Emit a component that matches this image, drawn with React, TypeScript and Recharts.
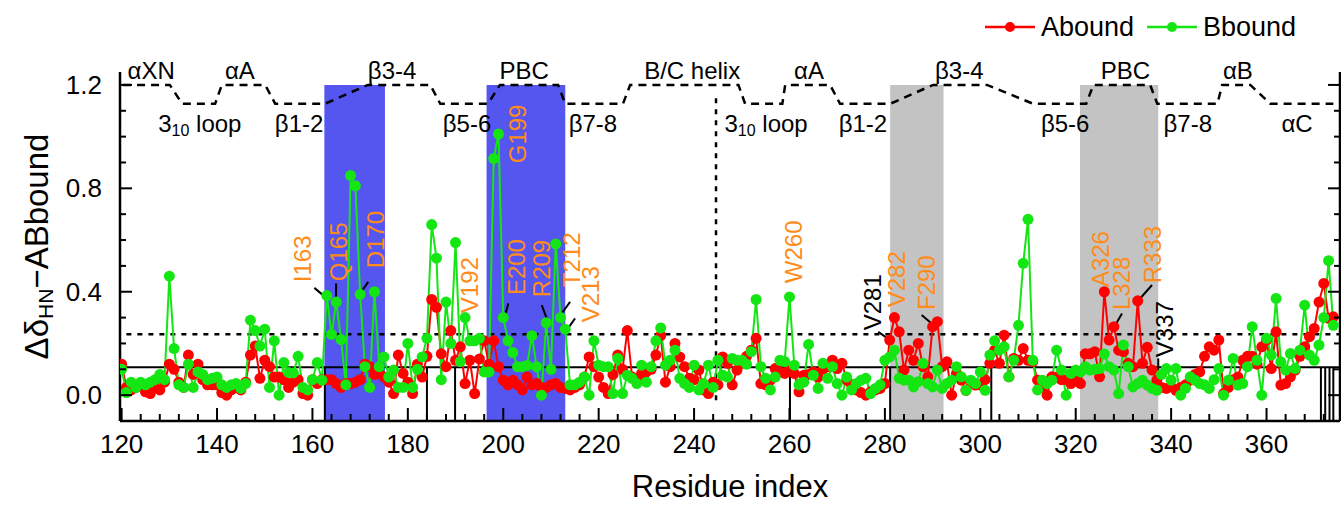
import React from "react";
import {
  ComposedChart,
  Line,
  XAxis,
  YAxis,
  ReferenceArea,
  ReferenceLine,
  ReferenceDot,
  Legend,
} from "recharts";

const FONT = '"Liberation Sans", Arial, Helvetica, sans-serif';
const RED = "#FF0000";
const GREEN = "#14E614";
const ORANGE = "#FF8C1A";
const BLUE_BAND = "#5555F0";
const GRAY_BAND = "#C3C3C3";

// ---------- data ----------
const FIRST_RESIDUE = 120;

const aboundValues = [
  0.12, 0.03, 0.02, 0.03, 0.04, 0.013, 0.006, 0.03, 0.02, 0.05,
  0.12, 0.10, 0.05, 0.03, 0.155, 0.08, 0.12, 0.06, 0.04, 0.04,
  0.04, 0.01, 0.0, 0.02, 0.03, 0.02, 0.05, 0.155, 0.19, 0.065,
  0.135, 0.11, 0.07, 0.07, 0.06, 0.03, 0.05, 0.06, 0.006, 0.0,
  0.06, 0.045, 0.06, 0.06, 0.06, 0.045, 0.03, 0.045, 0.045, 0.05,
  0.06, 0.12, 0.11, 0.08, 0.084, 0.07, 0.05, 0.006, 0.155, 0.084,
  0.05, 0.006, 0.12, 0.07, 0.15, 0.37, 0.34, 0.16, 0.11, 0.25,
  0.135, 0.187, 0.045, 0.135, 0.006, 0.14, 0.21, 0.12, 0.21, 0.11,
  0.058, 0.04, 0.058, 0.04, 0.02, 0.07, 0.04, 0.045, 0.03, 0.03,
  0.04, 0.045, 0.03, 0.026, 0.02, 0.03, 0.04, 0.07, 0.148, 0.11,
  0.07, 0.03, 0.006, 0.08, 0.155, 0.1, 0.25, 0.07, 0.065, 0.084,
  0.09, 0.1, 0.155, 0.23, 0.05, 0.11, 0.2, 0.148, 0.11, 0.065,
  0.06, 0.097, 0.02, 0.006, 0.05, 0.04, 0.148, 0.123, 0.04, 0.097,
  0.123, 0.15, 0.174, 0.22, 0.045, 0.04, 0.058, 0.103, 0.09, 0.084,
  0.103, 0.084, 0.013, 0.077, 0.08, 0.09, 0.07, 0.1, 0.11, 0.135,
  0.103, 0.123, 0.058, 0.04, 0.02, 0.01, 0.0, 0.013, 0.02, 0.026,
  0.045, 0.213, 0.30, 0.245, 0.097, 0.174, 0.135, 0.2, 0.11, 0.071,
  0.265, 0.284, 0.11, 0.129, 0.0, 0.084, 0.058, 0.019, 0.05, 0.039,
  0.04, 0.06, 0.123, 0.174, 0.123, 0.232, 0.071, 0.142, 0.135, 0.18,
  0.135, 0.13, 0.058, 0.03, 0.0, 0.071, 0.07, 0.06, 0.06, 0.045,
  0.058, 0.045, 0.16, 0.16, 0.168, 0.071, 0.40, 0.213, 0.265, 0.174,
  0.168, 0.123, 0.11, 0.365, 0.123, 0.185, 0.097, 0.058, 0.03, 0.026,
  0.032, 0.019, 0.03, 0.04, 0.058, 0.08, 0.09, 0.15, 0.187, 0.174,
  0.213, 0.006, 0.03, 0.06, 0.07, 0.135, 0.15, 0.15, 0.12, 0.187,
  0.213, 0.103, 0.245, 0.039, 0.045, 0.071, 0.097, 0.15, 0.187, 0.226,
  0.258, 0.36, 0.432, 0.297, 0.303,
];

const bboundValues = [
  0.10, 0.01, 0.05, 0.03, 0.05, 0.04, 0.05, 0.06, 0.08, 0.06,
  0.46, 0.18, 0.04, 0.03, 0.12, 0.03, 0.09, 0.08, 0.06, 0.065,
  0.07, 0.04, 0.03, 0.04, 0.045, 0.026, 0.045, 0.29, 0.25, 0.19,
  0.255, 0.03, 0.21, 0.0, 0.126, 0.088, 0.086, 0.15, 0.03, 0.02,
  0.06, 0.126, 0.058, 0.385, 0.235, 0.36, 0.215, 0.04, 0.85, 0.81,
  0.39, 0.11, 0.03, 0.40, 0.11, 0.148, 0.07, 0.097, 0.03, 0.03,
  0.2, 0.03, 0.1, 0.148, 0.22, 0.66, 0.53, 0.06, 0.36, 0.2,
  0.59, 0.13, 0.30, 0.21, 0.21, 0.22, 0.09, 0.09, 0.915, 1.01,
  0.30, 0.21, 0.165, 0.11, 0.11, 0.115, 0.23, 0.11, 0.0, 0.28,
  0.1, 0.585, 0.30, 0.255, 0.04, 0.04, 0.05, 0.07, 0.0, 0.21,
  0.116, 0.11, 0.11, 0.006, 0.142, 0.006, 0.077, 0.065, 0.045, 0.116,
  0.05, 0.11, 0.21, 0.26, 0.116, 0.135, 0.174, 0.065, 0.045, 0.03,
  0.116, 0.02, 0.045, 0.116, 0.03, 0.135, 0.077, 0.07, 0.142, 0.135,
  0.135, 0.12, 0.168, 0.37, 0.11, 0.065, 0.02, 0.07, 0.135, 0.13,
  0.38, 0.116, 0.04, 0.05, 0.196, 0.077, 0.026, 0.123, 0.065, 0.11,
  0.045, 0.0, 0.07, 0.02, 0.045, 0.058, 0.065, 0.006, 0.026, 0.04,
  0.135, 0.148, 0.174, 0.065, 0.058, 0.058, 0.032, 0.052, 0.123, 0.045,
  0.032, 0.097, 0.026, 0.045, 0.058, 0.11, 0.071, 0.019, 0.058, 0.045,
  0.09, 0.019, 0.155, 0.21, 0.174, 0.187, 0.071, 0.135, 0.27, 0.51,
  0.68, 0.135, 0.02, 0.058, 0.045, 0.058, 0.174, 0.097, 0.0, 0.084,
  0.097, 0.09, 0.11, 0.097, 0.1, 0.103, 0.159, 0.11, 0.097, 0.006,
  0.194, 0.11, 0.032, 0.045, 0.058, 0.039, 0.026, 0.019, 0.08, 0.103,
  0.058, 0.103, 0.0, 0.026, 0.071, 0.058, 0.045, 0.04, 0.026, 0.06,
  0.103, 0.0, 0.058, 0.142, 0.039, 0.045, 0.11, 0.265, 0.135, 0.0,
  0.22, 0.155, 0.374, 0.129, 0.097, 0.161, 0.103, 0.174, 0.348, 0.155,
  0.135, 0.194, 0.30, 0.52, 0.27,
];

const chartData = aboundValues.map((a, i) => ({
  r: FIRST_RESIDUE + i,
  a,
  b: bboundValues[i],
}));

// axes
const xDomain = [119.66, 375.4];
const yDomain = [-0.1, 1.25];
const xLabeledTicks = [120, 140, 160, 180, 200, 220, 240, 260, 280, 300, 320, 340, 360];
const xMinorStep = 4;
const xTickValues = Array.from({ length: 64 }, (_, i) => 120 + i * xMinorStep);
const yLabeledTicks = [0, 0.4, 0.8, 1.2];
const yTickValues = [0, 0.1, 0.2, 0.3, 0.4, 0.5, 0.6, 0.7, 0.8, 0.9, 1.0, 1.1, 1.2];

// shaded bands (residue ranges)
const blueBands = [
  [162.5, 175.2],
  [196.5, 213.0],
];
const grayBands = [
  [281.1, 292.3],
  [320.9, 337.3],
];

// threshold lines
const dottedThreshold = 0.236;
const solidThreshold = 0.108;
const solidDrops = [162.6, 184.0, 189.9, 260.1, 281.1, 302.3, 371.4, 372.3, 373.2, 374.0];
const domainSeparator = 244.6;

// secondary-structure dashed trace
const STRUCT_HIGH = 1.2;
const STRUCT_LOW = 1.127;
const structureResidues = [
  120.3, 130.1, 132.7, 139.6, 141.0, 150.1, 152.2, 162.6, 171.6, 184.7, 186.8, 196.8,
  199.3, 211.5, 213.0, 225.1, 226.6, 249.3, 250.7, 258.5, 259.1, 268.5, 270.6, 281.1,
  290.1, 301.4, 311.1, 322.2, 323.7, 335.6, 337.1, 349.7, 350.7, 356.6, 360.8, 374.0,
];
const structureIsHigh = [
  1, 1, 0, 0, 1, 1, 0, 0, 1, 1, 0, 0,
  1, 1, 0, 0, 1, 1, 0, 0, 1, 1, 0, 0,
  1, 1, 0, 0, 1, 1, 0, 0, 1, 1, 0, 0,
];
const structureData = structureResidues.map((r, i) => ({
  r,
  s: structureIsHigh[i] ? STRUCT_HIGH : STRUCT_LOW,
}));

const topLabels = ["αXN", "αA", "β3-4", "PBC", "B/C helix", "αA", "β3-4", "PBC", "αB"];
const topLabelResidues = [126.2, 144.8, 176.7, 204.4, 239.6, 264.1, 295.6, 330.4, 354.0];
const TOP_LABEL_LEVEL = 1.257;
const bottomLabels = ["3_10 loop", "β1-2", "β5-6", "β7-8", "3_10 loop", "β1-2", "β5-6", "β7-8", "αC"];
const bottomLabelResidues = [136.4, 157.2, 192.4, 218.8, 255.1, 275.4, 317.8, 343.5, 366.4];
const BOTTOM_LABEL_LEVEL = 1.052;

// residue annotations (text anchored at its lower end)
const annLabels = ["I163", "Q165", "D170", "V192", "G199", "E200", "R209", "T212", "V213", "W260", "V281", "V282", "F290", "A326", "L328", "R333", "V337"];
const annResidues = [158.0, 165.4, 173.3, 192.85, 203.0, 202.7, 208.1, 214.4, 218.2, 260.8, 277.5, 282.5, 288.8, 325.3, 329.7, 336.0, 338.6];
const annValues = [0.437, 0.441, 0.491, 0.317, 0.897, 0.387, 0.379, 0.418, 0.282, 0.433, 0.251, 0.34, 0.329, 0.418, 0.329, 0.433, 0.147];
const annBlack = ["V281", "V337"];

// leader lines [r1, v1, r2, v2]
const leaders = [
  [160.4, 0.415, 162.4, 0.384],
  [164.95, 0.432, 164.95, 0.368],
  [169.97, 0.393, 171.7, 0.438],
  [201.07, 0.355, 200.4, 0.31],
  [208.07, 0.348, 209.1, 0.297],
  [214.0, 0.361, 212.26, 0.316],
  [215.05, 0.297, 213.3, 0.251],
  [278.6, 0.245, 281.1, 0.213],
  [287.7, 0.31, 289.8, 0.277],
  [329.7, 0.316, 328.3, 0.271],
  [336.0, 0.426, 333.5, 0.374],
  [337.3, 0.142, 337.3, 0.071],
];

const legendItems = [
  { name: "Abound", color: RED },
  { name: "Bbound", color: GREEN },
];

// ---------- renderers ----------
const isLabeledX = (v: number) => xLabeledTicks.includes(v);
const isLabeledY = (v: number) => yLabeledTicks.some((t) => Math.abs(t - v) < 1e-6);

const XTick = (props: any) => {
  const { x, y, payload } = props;
  const v = payload.value;
  const major = isLabeledX(v);
  return (
    <g>
      <line x1={x} x2={x} y1={y} y2={y - (major ? 13 : 7)} stroke="#000" strokeWidth={2} />
      {major && (
        <text x={x} y={y + 32} textAnchor="middle" fontSize={26} fontFamily={FONT} fill="#000">
          {v}
        </text>
      )}
    </g>
  );
};

const YTickLeft = (props: any) => {
  const { x, y, payload } = props;
  const v = payload.value;
  const major = isLabeledY(v);
  return (
    <g>
      <line x1={x} x2={x + (major ? 12 : 6)} y1={y} y2={y} stroke="#000" strokeWidth={2} />
      {major && (
        <text x={x - 18} y={y + 9} textAnchor="end" fontSize={26} fontFamily={FONT} fill="#000">
          {v.toFixed(1)}
        </text>
      )}
    </g>
  );
};

const YTickRight = (props: any) => {
  const { x, y, payload } = props;
  const major = isLabeledY(payload.value);
  return <line x1={x} x2={x - (major ? 12 : 6)} y1={y} y2={y} stroke="#000" strokeWidth={2} />;
};

const YTitle = (props: any) => {
  const vb = props.viewBox || { x: 0, y: 72, width: 120, height: 349 };
  const cx = vb.x + 36;
  const cy = vb.y + vb.height / 2;
  return (
    <text
      x={cx}
      y={cy}
      transform={`rotate(-90 ${cx} ${cy})`}
      textAnchor="middle"
      dominantBaseline="central"
      fontSize={33}
      fontFamily={FONT}
      fill="#000"
    >
      Δδ
      <tspan dy={9} fontSize={21}>HN</tspan>
      <tspan dy={-9}>−ABbound</tspan>
    </text>
  );
};

const XTitle = (props: any) => {
  const vb = props.viewBox || { x: 120, y: 421, width: 1220, height: 85 };
  return (
    <text x={vb.x + vb.width / 2} y={vb.y + 76} textAnchor="middle" fontSize={31} fontFamily={FONT} fill="#000">
      Residue index
    </text>
  );
};

const renderStructLabel = (label: string) => (p: any) => {
  if (p.cx == null) return <g />;
  if (label.startsWith("3_10")) {
    return (
      <text x={p.cx} y={p.cy} textAnchor="middle" dominantBaseline="central" fontSize={24} fontFamily={FONT} fill="#000">
        3<tspan dy={7} fontSize={16}>10</tspan>
        <tspan dy={-7}>{label.slice(4)}</tspan>
      </text>
    );
  }
  return (
    <text x={p.cx} y={p.cy} textAnchor="middle" dominantBaseline="central" fontSize={24} fontFamily={FONT} fill="#000">
      {label}
    </text>
  );
};

const renderAnnotation = (label: string) => (p: any) => {
  if (p.cx == null) return <g />;
  return (
    <text
      x={p.cx}
      y={p.cy}
      transform={`rotate(-90 ${p.cx} ${p.cy})`}
      textAnchor="start"
      dominantBaseline="central"
      fontSize={24}
      fontFamily={FONT}
      fill={annBlack.includes(label) ? "#000" : ORANGE}
    >
      {label}
    </text>
  );
};

const renderLegend = () => (
  <svg width={371} height={40}>
    {legendItems.map((it, i) => {
      const x0 = 15 + i * 162;
      return (
        <g key={it.name}>
          <line x1={x0} x2={x0 + 50} y1={20} y2={20} stroke={it.color} strokeWidth={2.5} />
          <circle cx={x0 + 25} cy={20} r={5} fill={it.color} />
          <text x={x0 + 56} y={29} fontSize={27} fontFamily={FONT} fill="#000">
            {it.name}
          </text>
        </g>
      );
    })}
  </svg>
);

export default function App() {
  return (
    <div style={{ position: "absolute", left: 0, top: 0, background: "#fff" }}>
      <ComposedChart
        width={1341}
        height={506}
        data={chartData}
        margin={{ top: 72, right: 0, bottom: 0, left: 0 }}
      >
        <XAxis
          dataKey="r"
          type="number"
          domain={xDomain}
          allowDataOverflow
          ticks={xTickValues}
          interval={0}
          tickSize={0}
          tickMargin={0}
          tickLine={false}
          tick={<XTick />}
          height={85}
          axisLine={{ stroke: "#000", strokeWidth: 2.5 }}
          label={(p: any) => <XTitle {...p} />}
        />
        <YAxis
          yAxisId="left"
          type="number"
          domain={yDomain}
          allowDataOverflow
          ticks={yTickValues}
          interval={0}
          tickSize={0}
          tickMargin={0}
          tickLine={false}
          tick={<YTickLeft />}
          width={120}
          axisLine={{ stroke: "#000", strokeWidth: 2.5 }}
          label={(p: any) => <YTitle {...p} />}
        />
        <YAxis
          yAxisId="right"
          orientation="right"
          type="number"
          domain={yDomain}
          allowDataOverflow
          ticks={yTickValues}
          interval={0}
          tickSize={0}
          tickMargin={0}
          tickLine={false}
          tick={<YTickRight />}
          width={1}
          axisLine={{ stroke: "#000", strokeWidth: 2.5 }}
        />

        {blueBands.map(([x1, x2], i) => (
          <ReferenceArea key={`bb${i}`} yAxisId="left" x1={x1} x2={x2} y1={-0.1} y2={STRUCT_HIGH} fill={BLUE_BAND} fillOpacity={1} stroke="none" ifOverflow="visible" />
        ))}
        {grayBands.map(([x1, x2], i) => (
          <ReferenceArea key={`gb${i}`} yAxisId="left" x1={x1} x2={x2} y1={-0.1} y2={STRUCT_HIGH} fill={GRAY_BAND} fillOpacity={1} stroke="none" ifOverflow="visible" />
        ))}

        <ReferenceLine
          yAxisId="left"
          segment={[{ x: 121, y: dottedThreshold }, { x: 375.4, y: dottedThreshold }]}
          stroke="#000"
          strokeWidth={2.5}
          strokeDasharray="5 6"
          ifOverflow="visible"
        />
        <ReferenceLine
          yAxisId="left"
          segment={[{ x: domainSeparator, y: -0.02 }, { x: domainSeparator, y: 1.155 }]}
          stroke="#000"
          strokeWidth={2.5}
          strokeDasharray="5 6"
          ifOverflow="visible"
        />
        <ReferenceLine
          yAxisId="left"
          segment={[{ x: 119.66, y: solidThreshold }, { x: 375.4, y: solidThreshold }]}
          stroke="#000"
          strokeWidth={2}
          ifOverflow="visible"
        />
        {solidDrops.map((r, i) => (
          <ReferenceLine
            key={`sd${i}`}
            yAxisId="left"
            segment={[{ x: r, y: -0.1 }, { x: r, y: solidThreshold }]}
            stroke="#000"
            strokeWidth={2}
            ifOverflow="visible"
          />
        ))}

        <Line
          yAxisId="left"
          data={structureData}
          dataKey="s"
          type="linear"
          stroke="#000"
          strokeWidth={2.5}
          strokeDasharray="8 6"
          dot={false}
          activeDot={false}
          isAnimationActive={false}
          legendType="none"
        />

        <Line
          yAxisId="left"
          dataKey="a"
          name="Abound"
          type="linear"
          stroke={RED}
          strokeWidth={2}
          dot={{ r: 5.5, fill: RED, stroke: "none" }}
          activeDot={false}
          isAnimationActive={false}
        />
        <Line
          yAxisId="left"
          dataKey="b"
          name="Bbound"
          type="linear"
          stroke={GREEN}
          strokeWidth={2}
          dot={{ r: 5.5, fill: GREEN, stroke: "none" }}
          activeDot={false}
          isAnimationActive={false}
        />

        {leaders.map(([r1, v1, r2, v2], i) => (
          <ReferenceLine
            key={`ld${i}`}
            yAxisId="left"
            segment={[{ x: r1, y: v1 }, { x: r2, y: v2 }]}
            stroke="#000"
            strokeWidth={2}
            ifOverflow="visible"
          />
        ))}
        {annLabels.map((lab, i) => (
          <ReferenceDot
            key={`an${i}`}
            yAxisId="left"
            x={annResidues[i]}
            y={annValues[i]}
            r={0}
            ifOverflow="visible"
            shape={renderAnnotation(lab)}
          />
        ))}
        {topLabels.map((lab, i) => (
          <ReferenceDot
            key={`tl${i}`}
            yAxisId="left"
            x={topLabelResidues[i]}
            y={TOP_LABEL_LEVEL}
            r={0}
            ifOverflow="visible"
            shape={renderStructLabel(lab)}
          />
        ))}
        {bottomLabels.map((lab, i) => (
          <ReferenceDot
            key={`bl${i}`}
            yAxisId="left"
            x={bottomLabelResidues[i]}
            y={BOTTOM_LABEL_LEVEL}
            r={0}
            ifOverflow="visible"
            shape={renderStructLabel(lab)}
          />
        ))}

        <Legend
          layout="horizontal"
          verticalAlign="middle"
          align="center"
          content={renderLegend}
          wrapperStyle={{ position: "absolute", left: 970, top: 7, width: 371, height: 40 }}
        />
      </ComposedChart>
    </div>
  );
}
